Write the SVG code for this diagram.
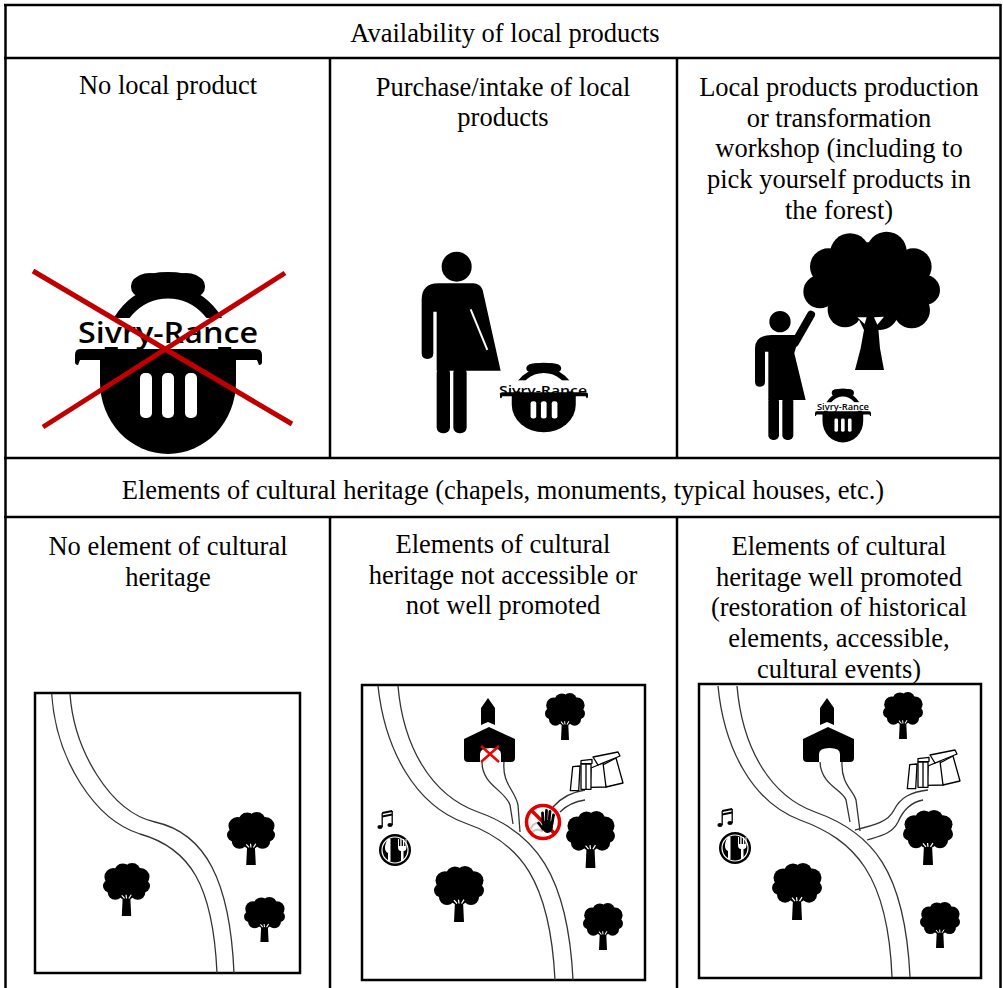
<svg xmlns="http://www.w3.org/2000/svg" xmlns:xlink="http://www.w3.org/1999/xlink" width="1003" height="988" viewBox="0 0 1003 988">
  <style>
    .grid { stroke: #000; stroke-width: 2.5; fill: none; }
    .lbl { font-family: "Liberation Serif", "Times New Roman", serif; font-size: 26.5px; fill: #000; text-anchor: middle; }
    .frame { fill: #fff; stroke: #000; stroke-width: 2.5; }
    .road { fill: none; stroke: #333; stroke-width: 1.3; }
    .brand { font-family: "Open Sans", "Noto Sans", sans-serif; font-weight: 600; fill: #000; text-anchor: middle; }
  </style>
  <defs>
    <!-- basket logo, drawn in its own 187x186 box -->
    <symbol id="basket" viewBox="75 270 187 186" preserveAspectRatio="none">
      <path d="M111,354 A57,62 0 0 1 225,354" fill="none" stroke="#000" stroke-width="13"/>
      <rect x="131" y="276" width="74" height="21" rx="10"/>
      <ellipse cx="150" cy="280" rx="14" ry="7"/>
      <ellipse cx="186" cy="280" rx="14" ry="7"/>
      <ellipse cx="168" cy="277" rx="22" ry="5"/>
      <rect x="70" y="318" width="197" height="29" fill="#fff"/>
      <path d="M80,349 L256,349 Q262,349 262,355 L262,362 Q262,365 259,365 L257,360 L80,360 L78,365 Q75,365 75,362 L75,355 Q75,349 80,349 Z"/>
      <path d="M100,358 L236,358 L236,382 A68,72 0 0 1 100,382 Z"/>
      <rect x="140" y="373" width="12" height="45" rx="5" fill="#fff"/>
      <rect x="162" y="373" width="12" height="45" rx="5" fill="#fff"/>
      <rect x="185" y="373" width="12" height="45" rx="5" fill="#fff"/>
    </symbol>
    <!-- small map tree -->
    <symbol id="tree" viewBox="0 0 100 115" preserveAspectRatio="none">
      <g fill="#000">
        <circle cx="22" cy="30" r="19"/>
        <circle cx="42" cy="19" r="18"/>
        <circle cx="62" cy="18" r="18"/>
        <circle cx="80" cy="30" r="19"/>
        <circle cx="86" cy="50" r="14"/>
        <circle cx="74" cy="64" r="16"/>
        <circle cx="50" cy="64" r="17"/>
        <circle cx="26" cy="64" r="16"/>
        <circle cx="14" cy="50" r="14"/>
        <circle cx="50" cy="42" r="30"/>
        <polygon points="42,72 58,72 60,115 40,115"/>
      </g>
      <path d="M40,70 L46,77 M49,69 L50,77 M60,69 L55,77" stroke="#fff" stroke-width="2.5" fill="none"/>
    </symbol>
    <!-- standing stones -->
    <g id="dolmen" fill="#fff" stroke="#000" stroke-width="1.3" stroke-linejoin="round">
      <polygon points="29,15 46,6 53,31 36,35"/>
      <polygon points="21,16 33,11 36,35 20,35.3"/>
      <polygon points="23,5 48,0 50,4 28,13"/>
      <polygon points="11,8.7 22,7.3 22,11.3 11,12"/>
      <rect x="11" y="12" width="10" height="25.3"/>
      <line x1="16" y1="12" x2="16" y2="37.3"/>
      <polygon points="2.7,14.7 10,14 8.7,38.7 0.3,38.7"/>
    </g>
    <!-- music note and restaurant badge, origin at badge centre -->
    <g id="dine">
      <g fill="#000" stroke="#000">
        <ellipse cx="-15" cy="-23" rx="2.6" ry="2" stroke="none"/>
        <ellipse cx="-5" cy="-25" rx="2.6" ry="2" stroke="none"/>
        <line x1="-12.8" y1="-23" x2="-12.8" y2="-37" stroke-width="1.3"/>
        <line x1="-2.8" y1="-25" x2="-2.8" y2="-39" stroke-width="1.3"/>
        <line x1="-12.8" y1="-37" x2="-2.8" y2="-39" stroke-width="2"/>
        <line x1="-12.8" y1="-33.5" x2="-2.8" y2="-35.5" stroke-width="2"/>
      </g>
      <circle r="16"/>
      <circle r="13" fill="none" stroke="#fff" stroke-width="1.2"/>
      <path d="M-7,-11 C-11,-6 -11,2 -7,3 L-7,11 L-4.5,11 L-4.5,-11 Z" fill="#fff"/>
      <path d="M3,-11 L3,-3 Q3,1 6,1 L6,11 L8.5,11 L8.5,1 Q11.5,1 11.5,-3 L11.5,-11 L10.5,-11 L10.5,-4 L9.2,-4 L9.2,-11 L8,-11 L8,-4 L6.6,-4 L6.6,-11 L5.3,-11 L5.3,-4 L4,-4 L4,-11 Z" fill="#fff"/>
    </g>
    <!-- chapel -->
    <g id="chapel" fill="#000">
      <path d="M17,10 L24,0 L31,10 L31,27 L24,24 L17,27 Z"/>
      <path d="M0,41 L25,29 L51,41 L51,60 Q51,64 47,64 L4,64 Q0,64 0,60 Z"/>
      <path d="M16,64 L16,56 Q16,50 26.5,50 Q37,50 37,56 L37,64 Z" fill="#fff"/>
    </g>
  </defs>

  <!-- table rules -->
  <g id="table" class="grid">
    <line x1="4" y1="5" x2="1001" y2="5"/>
    <line x1="5.5" y1="4" x2="5.5" y2="988"/>
    <line x1="1000.5" y1="4" x2="1000.5" y2="988"/>
    <line x1="4" y1="58" x2="1001" y2="58"/>
    <line x1="4" y1="458" x2="1001" y2="458"/>
    <line x1="4" y1="517" x2="1001" y2="517"/>
    <line x1="330" y1="58" x2="330" y2="458"/>
    <line x1="677" y1="58" x2="677" y2="458"/>
    <line x1="330" y1="517" x2="330" y2="988"/>
    <line x1="677" y1="517" x2="677" y2="988"/>
  </g>

  <!-- headings -->
  <g id="head-products"><text class="lbl" x="505" y="42">Availability of local products</text></g>
  <g id="head-heritage"><text class="lbl" x="503" y="499">Elements of cultural heritage (chapels, monuments, typical houses, etc.)</text></g>

  <!-- row 1: local products -->
  <g id="no-product">
    <text class="lbl" x="168" y="94">No local product</text>
    <use href="#basket" x="75" y="270" width="187" height="186"/>
    <text class="brand" x="168" y="343" font-size="29" textLength="180" lengthAdjust="spacingAndGlyphs">Sivry-Rance</text>
    <g stroke="#c00000" stroke-width="5" stroke-linecap="butt">
      <line x1="33" y1="271" x2="292" y2="424"/>
      <line x1="285" y1="273" x2="43" y2="427"/>
    </g>
  </g>

  <g id="purchase">
    <text class="lbl" x="503" y="96">Purchase/intake of local</text>
    <text class="lbl" x="503" y="126">products</text>
    <g transform="translate(400,240) scale(0.3333)">
      <circle cx="170" cy="80" r="45"/>
      <path d="M100,340 L100,215 L110,215 L110,392 L302,392 L248,150 Q240,130 220,130 L115,130 Q65,130 65,180 L65,340 Q65,357 82,357 Q100,357 100,340 Z"/>
      <line x1="212" y1="208" x2="262" y2="330" stroke="#fff" stroke-width="6"/>
      <rect x="110" y="380" width="40" height="200" rx="18"/>
      <rect x="160" y="380" width="40" height="200" rx="18"/>
    </g>
    <use href="#basket" x="500" y="362" width="88" height="71"/>
    <text class="brand" x="543" y="395" font-size="13" textLength="88" lengthAdjust="spacingAndGlyphs">Sivry-Rance</text>
  </g>

  <g id="workshop">
    <text class="lbl" x="839" y="96">Local products production</text>
    <text class="lbl" x="839" y="127">or transformation</text>
    <text class="lbl" x="839" y="157">workshop (including to</text>
    <text class="lbl" x="839" y="188">pick yourself products in</text>
    <text class="lbl" x="839" y="219">the forest)</text>
    <g transform="translate(740,220) scale(0.3333)">
      <!-- large tree -->
      <g fill="#000">
        <circle cx="330" cy="100" r="60"/>
        <circle cx="440" cy="95" r="60"/>
        <circle cx="520" cy="140" r="55"/>
        <circle cx="555" cy="210" r="45"/>
        <circle cx="515" cy="270" r="55"/>
        <circle cx="420" cy="275" r="55"/>
        <circle cx="315" cy="270" r="52"/>
        <circle cx="240" cy="215" r="50"/>
        <circle cx="265" cy="140" r="55"/>
        <circle cx="400" cy="185" r="120"/>
        <path d="M345,450 L432,450 L420,385 L415,325 L452,285 L350,285 L372,330 L362,385 Z"/>
      </g>
      <polygon points="352,292 380,292 374,312" fill="#fff"/>
      <polygon points="402,292 432,290 412,314" fill="#fff"/>
      <!-- picking figure -->
      <circle cx="120" cy="305" r="32"/>
      <path d="M75,485 L75,395 L85,395 L85,540 L197,540 L163,400 L178,345 L95,345 Q45,345 45,385 L45,485 Q45,500 60,500 Q75,500 75,485 Z"/>
      <line x1="165" y1="368" x2="213" y2="284" stroke="#000" stroke-width="24" stroke-linecap="round"/>
      <rect x="85" y="530" width="32" height="130" rx="14"/>
      <rect x="127" y="530" width="33" height="130" rx="14"/>
    </g>
    <use href="#basket" x="815" y="388" width="56" height="55"/>
    <text class="brand" x="843" y="410" font-size="8.5" textLength="52" lengthAdjust="spacingAndGlyphs">Sivry-Rance</text>
  </g>

  <!-- row 2: cultural heritage -->
  <g id="no-heritage">
    <text class="lbl" x="168" y="555">No element of cultural</text>
    <text class="lbl" x="168" y="586">heritage</text>
    <rect class="frame" x="35" y="693" width="265" height="280"/>
    <path class="road" d="M51.7,694 C56,760 95,820 140,834 C190,848 213,885 217,973"/>
    <path class="road" d="M70,694 C74,750 110,812 155,822 C205,833 230,880 234,973"/>
    <use href="#tree" x="103" y="863" width="47" height="53"/>
    <use href="#tree" x="227" y="812" width="48" height="53"/>
    <use href="#tree" x="244" y="897" width="41" height="45"/>
  </g>

  <g id="heritage-hidden">
    <text class="lbl" x="503" y="553">Elements of cultural</text>
    <text class="lbl" x="503" y="584">heritage not accessible or</text>
    <text class="lbl" x="503" y="614">not well promoted</text>
    <rect class="frame" x="362" y="685" width="283" height="295"/>
    <path class="road" d="M378,686 C385,750 415,805 465,823 C520,842 550,880 555,980"/>
    <path class="road" d="M398,686 C403,745 430,795 478,812 C535,832 568,875 573,980"/>
    <path class="road" d="M482,762 C482,785 505,790 510,805 L513,824 M504,762 C502,784 515,790 518,805 L520,832"/>
    <path class="road" d="M553,807 Q565,793 585,790 M560,812 Q570,802 585,800"/>
    <use href="#chapel" x="464" y="698"/>
    <g stroke="#f00000" stroke-width="2.5">
      <line x1="481" y1="746" x2="499" y2="762"/>
      <line x1="499" y1="746" x2="481" y2="762"/>
    </g>
    <use href="#dolmen" x="570" y="752"/>
    <!-- no-entry sign -->
    <circle cx="543" cy="822" r="16.5" fill="#fff"/>
    <g stroke="#c8c8c8" stroke-width="2.2" stroke-linecap="round" fill="none">
      <path d="M531,828 Q535,821 540,824 M532,832 Q537,828 542,831"/>
    </g>
    <line x1="531.5" y1="810.5" x2="554.5" y2="833.5" stroke="#e00000" stroke-width="3.5"/>
    <g stroke="#000" stroke-width="2.8" stroke-linecap="round">
      <line x1="543" y1="823" x2="542.5" y2="813"/>
      <line x1="546" y1="822" x2="546.5" y2="810.5"/>
      <line x1="549" y1="822" x2="550" y2="811.5"/>
      <line x1="552" y1="824" x2="553.5" y2="815"/>
      <line x1="543" y1="829" x2="538.5" y2="823"/>
    </g>
    <ellipse cx="547.5" cy="826.5" rx="5.5" ry="6.5" fill="#000"/>
    <circle cx="543" cy="822" r="16.5" fill="none" stroke="#e00000" stroke-width="3.5"/>
    <use href="#dine" x="395" y="850"/>
    <use href="#tree" x="545" y="693" width="40" height="47"/>
    <use href="#tree" x="566" y="811" width="49" height="57"/>
    <use href="#tree" x="434" y="866" width="50" height="56"/>
    <use href="#tree" x="583" y="903" width="40" height="47"/>
  </g>

  <g id="heritage-promoted">
    <text class="lbl" x="839" y="555">Elements of cultural</text>
    <text class="lbl" x="839" y="586">heritage well promoted</text>
    <text class="lbl" x="839" y="616">(restoration of historical</text>
    <text class="lbl" x="839" y="647">elements, accessible,</text>
    <text class="lbl" x="839" y="678">cultural events)</text>
    <rect class="frame" x="699" y="684" width="282" height="294"/>
    <path class="road" d="M718,686 C724,748 752,802 800,820 C855,840 888,875 892,977"/>
    <path class="road" d="M737,686 C742,745 768,795 815,812 C872,832 905,870 910,977"/>
    <path class="road" d="M820,762 C821,785 843,790 846,800 L850,822 M842,762 C841,784 853,790 856,800 L860,831"/>
    <path class="road" d="M855,830 C875,825 888,822 894,810 C900,798 910,792 928,790 M867,840 C880,836 892,834 898,822 C904,808 912,802 923,800"/>
    <use href="#chapel" x="803" y="698"/>
    <use href="#dolmen" x="907" y="750"/>
    <use href="#dine" x="735" y="848"/>
    <use href="#tree" x="883" y="692" width="40" height="47"/>
    <use href="#tree" x="903" y="810" width="50" height="55"/>
    <use href="#tree" x="772" y="863" width="50" height="57"/>
    <use href="#tree" x="920" y="902" width="40" height="46"/>
  </g>
</svg>
